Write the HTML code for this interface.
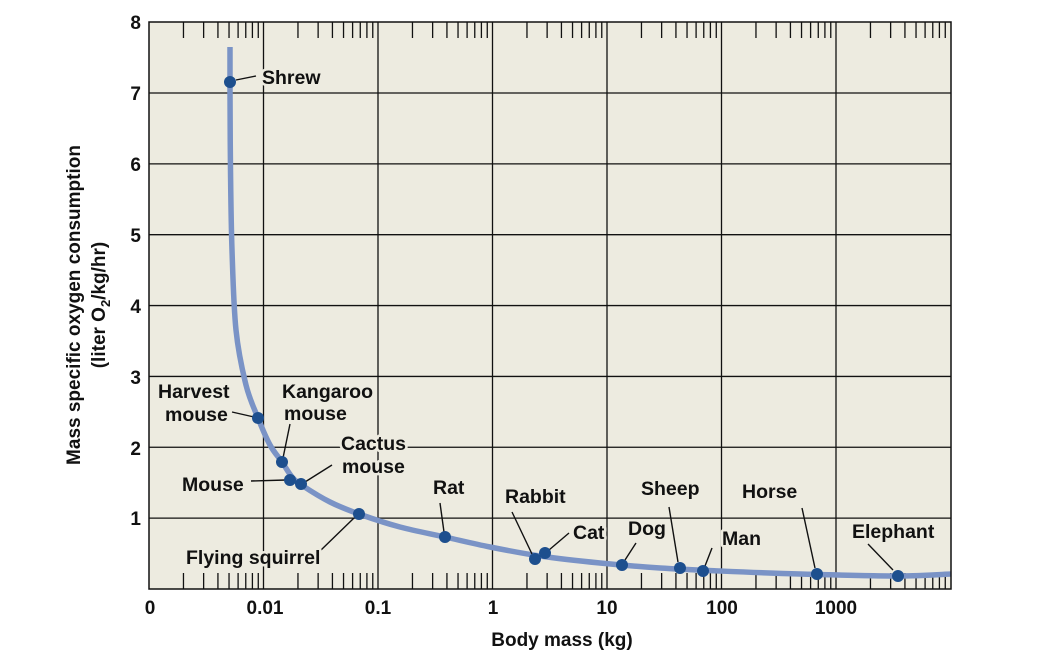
<!DOCTYPE html>
<html><head><meta charset="utf-8"><style>
html,body{margin:0;padding:0;background:#fff;}
svg{display:block;font-family:"Liberation Sans",sans-serif;font-weight:bold;}
.lb{font-size:19.5px;fill:#111;paint-order:stroke;stroke:#edebe0;stroke-width:5px;stroke-linejoin:round;}
.ax{font-size:19px;fill:#111;}
</style></head><body>
<svg id="s" width="1042" height="662" viewBox="0 0 1042 662" xmlns="http://www.w3.org/2000/svg">
<rect x="149" y="22" width="802" height="567" fill="#edebe0"/>
<g id="grid" stroke="#111" stroke-width="1.3" fill="none"></g>
<path id="curve" fill="none" stroke="#7a93c6" stroke-width="5.5" stroke-linecap="butt" stroke-linejoin="round"/>
<g id="labels"></g>
<g id="dots" fill="#1d4f8e"></g>
<rect x="149" y="22" width="802" height="567" fill="none" stroke="#111" stroke-width="1.5"/>
<g class="ax" text-anchor="end">
<text x="141" y="29">8</text><text x="141" y="100">7</text><text x="141" y="171">6</text><text x="141" y="242">5</text><text x="141" y="313">4</text><text x="141" y="384">3</text><text x="141" y="455">2</text><text x="141" y="525">1</text>
</g>
<g class="ax" text-anchor="middle">
<text x="150" y="614">0</text><text x="265" y="614">0.01</text><text x="378" y="614">0.1</text><text x="493" y="614">1</text><text x="607" y="614">10</text><text x="722" y="614">100</text><text x="836" y="614">1000</text>
<text x="562" y="646">Body mass (kg)</text>
<text transform="translate(80,305) rotate(-90)">Mass specific oxygen consumption</text>
<text transform="translate(105,305) rotate(-90)">(liter O<tspan font-size="13" dy="5">2</tspan><tspan dy="-5">/kg/hr)</tspan></text>
</g>
</svg>
<script>
var NS="http://www.w3.org/2000/svg";
function el(p,t,a,txt){var e=document.createElementNS(NS,t);for(var k in a)e.setAttribute(k,a[k]);if(txt)e.textContent=txt;p.appendChild(e);return e;}
var g=document.getElementById('grid');
var X0=149,D=114.5;
for(var v=1;v<=7;v++){var y=589-v*70.86;el(g,'line',{x1:149,x2:951,y1:y,y2:y});}
for(var d=0;d<7;d++){
 var bx=X0+d*D;
 if(d>0&&bx<951)el(g,'line',{x1:bx,x2:bx,y1:22,y2:589});
 for(var m=2;m<=9;m++){var x=bx+Math.log10(m)*D;if(x>950)continue;
  el(g,'line',{x1:x,x2:x,y1:22,y2:38});el(g,'line',{x1:x,x2:x,y1:573,y2:589});}
}
var pts=[[230,47],[230,90],[230.5,170],[232,250],[236,330],[246,385],[258,418],[270,445],[282,462],[292,477],[303,486],[330,502],[359,514],[400,527],[445,537],[490,547],[540,556],[600,563],[660,568],[720,571],[800,574],[898,576],[951,574]];
var p="M"+pts[0][0]+","+pts[0][1];
for(var i=0;i<pts.length-1;i++){
 var a=pts[Math.max(i-1,0)],b=pts[i],c=pts[i+1],dd=pts[Math.min(i+2,pts.length-1)];
 p+=" C"+(b[0]+(c[0]-a[0])/6)+","+(b[1]+(c[1]-a[1])/6)+" "+(c[0]-(dd[0]-b[0])/6)+","+(c[1]-(dd[1]-b[1])/6)+" "+c[0]+","+c[1];
}
document.getElementById('curve').setAttribute('d',p);
var dots=[[230,82],[258,418],[282,462],[290,480],[301,484],[359,514],[445,537],[535,559],[545,553],[622,565],[680,568],[703,571],[817,574],[898,576]];
var dg=document.getElementById('dots');
dots.forEach(function(q){el(dg,'circle',{cx:q[0],cy:q[1],r:6});});
var L=document.getElementById('labels');
var lines=[[236,80,256,76],[232,412,254,417],[290,424,283,458],[251,481,286,480],[332,465,305,482],[320,551,354,518],[440,503,444,532],[512,512,532,554],[569,533,549,550],[636,543,625,560],[669,507,678,562],[712,548,705,566],[802,508,815,568],[868,544,893,570]];
lines.forEach(function(l){el(L,'line',{x1:l[0],y1:l[1],x2:l[2],y2:l[3],stroke:'#111','stroke-width':1.4});});
var T=[[262,84,'Shrew'],[158,398,'Harvest'],[165,421,'mouse'],[282,398,'Kangaroo'],[284,420,'mouse'],[341,450,'Cactus'],[342,473,'mouse'],[182,491,'Mouse'],[186,564,'Flying squirrel'],[433,494,'Rat'],[505,503,'Rabbit'],[573,539,'Cat'],[628,535,'Dog'],[641,495,'Sheep'],[722,545,'Man'],[742,498,'Horse'],[852,538,'Elephant']];
T.forEach(function(t){el(L,'text',{x:t[0],y:t[1],'class':'lb'},t[2]);});
</script>
</body></html>
